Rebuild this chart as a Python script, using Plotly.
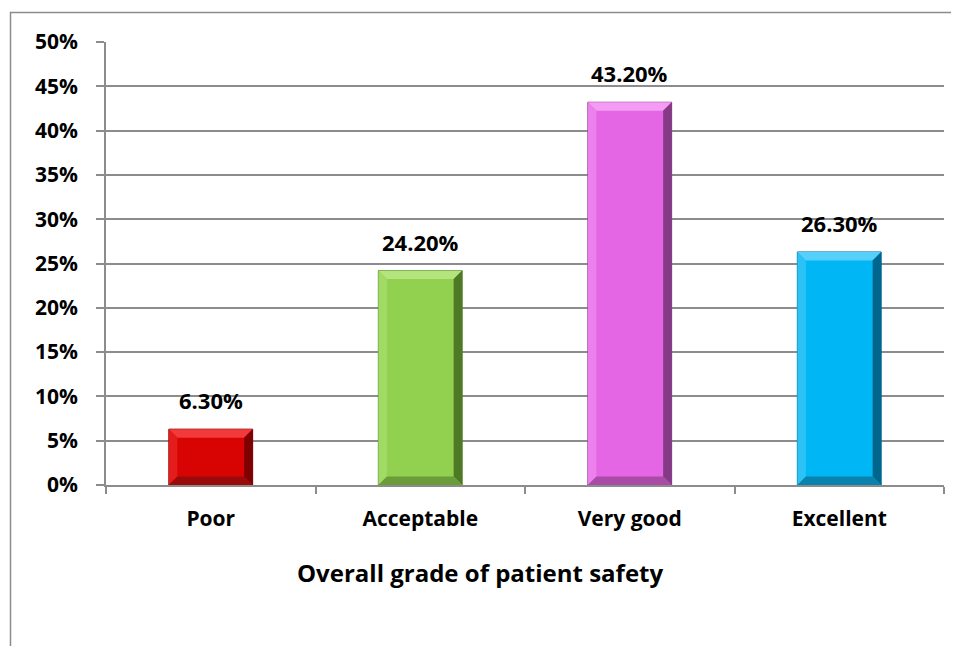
import plotly.graph_objects as go

categories = ["Poor", "Acceptable", "Very good", "Excellent"]
values = [6.3, 24.2, 43.2, 26.3]
labels = ["6.30%", "24.20%", "43.20%", "26.30%"]
face_colors = ["#D80404", "#92D050", "#E466E4", "#00B6F4"]
top_colors = ["#F23A3A", "#B4E47E", "#F49CF4", "#55D0FA"]
left_colors = ["#E41C1C", "#A2DA66", "#EC80EC", "#2CC2F6"]
right_colors = ["#7E0000", "#4E7A26", "#843A84", "#00668E"]
bottom_colors = ["#9A0A0A", "#6A9C3A", "#A84CA8", "#0A82AE"]
y_ticks = list(range(0, 51, 5))

OFF = 8  # page body margin
W, H = 959 - OFF, 646 - OFF
L, T = 106 - OFF, 42 - OFF
R = W - (944 - OFF)
B = H - (485 - OFF)
PW, PH = W - L - R, H - T - B

def px_x(p):
    return (p - OFF - L) / PW

def px_y(p):
    return (H - B - (p - OFF)) / PH

FONT = "Open Sans"
BAR_W = 0.4
DX = 8.5 / (PW / 4)          # bevel inset in x units
DY = 8.5 / (PH / 50)         # bevel inset in y units

xs = list(range(len(categories)))

fig = go.Figure()
fig.add_trace(go.Bar(
    x=xs, y=values, width=BAR_W,
    marker=dict(color=face_colors, line=dict(color=right_colors, width=1)),
    hoverinfo="skip", showlegend=False,
))

shapes = []
for i, v in enumerate(values):
    xl, xr = i - BAR_W / 2, i + BAR_W / 2
    il, ir = xl + DX, xr - DX
    it, ib = v - DY, DY
    polys = [
        ([(xl, v), (xr, v), (ir, it), (il, it)], top_colors[i]),
        ([(xl, 0), (xl, v), (il, it), (il, ib)], left_colors[i]),
        ([(xr, 0), (xr, v), (ir, it), (ir, ib)], right_colors[i]),
        ([(xl, 0), (xr, 0), (ir, ib), (il, ib)], bottom_colors[i]),
    ]
    for pts, col in polys:
        path = "M " + " L ".join(f"{a},{b}" for a, b in pts) + " Z"
        shapes.append(dict(type="path", path=path, xref="x", yref="y",
                           fillcolor=col, line=dict(width=0), layer="above"))

# chart border
shapes.append(dict(type="rect", xref="paper", yref="paper",
                   x0=px_x(10.5), x1=px_x(975), y0=px_y(670), y1=px_y(12.5),
                   line=dict(color="#8C8C8C", width=1.5), fillcolor="rgba(0,0,0,0)",
                   layer="below"))

annotations = []
for i, (v, t) in enumerate(zip(values, labels)):
    annotations.append(dict(x=i, y=v, xref="x", yref="y", text=t, showarrow=False,
                            yanchor="bottom", yshift=12,
                            font=dict(family=FONT, size=22, color="#000000", weight="bold")))
annotations.append(dict(x=px_x(480), y=px_y(572), xref="paper", yref="paper",
                        text="Overall grade of patient safety", showarrow=False,
                        xanchor="center", yanchor="middle",
                        font=dict(family=FONT, size=24, color="#000000", weight="bold")))

fig.update_layout(
    width=W, height=H,
    margin=dict(l=L, r=R, t=T, b=B, pad=0),
    paper_bgcolor="white", plot_bgcolor="white",
    shapes=shapes, annotations=annotations,
    bargap=0.6,
    xaxis=dict(
        range=[-0.5, len(categories) - 0.5],
        tickmode="array", tickvals=xs, ticktext=categories,
        ticks="", showgrid=False, zeroline=False,
        showline=True, linecolor="#8C8C8C", linewidth=1.5,
        minor=dict(tickmode="array", tickvals=[i - 0.5 for i in range(len(categories) + 1)],
                   ticks="outside", ticklen=7, tickcolor="#8C8C8C", tickwidth=1.5, showgrid=False),
        tickfont=dict(family=FONT, size=21, color="#000000", weight="bold"),
        ticklabelstandoff=14,
    ),
    yaxis=dict(
        range=[0, 50], tickmode="array", tickvals=y_ticks,
        ticktext=[f"{v}%" for v in y_ticks],
        ticks="outside", ticklen=8, tickcolor="#8C8C8C", tickwidth=1.5,
        showgrid=True, gridcolor="#8C8C8C", gridwidth=1.5,
        zeroline=False, showline=True, linecolor="#8C8C8C", linewidth=1.5,
        tickfont=dict(family=FONT, size=21, color="#000000", weight="bold"),
        ticklabelstandoff=14,
    ),
)

fig.write_html("out.html")
